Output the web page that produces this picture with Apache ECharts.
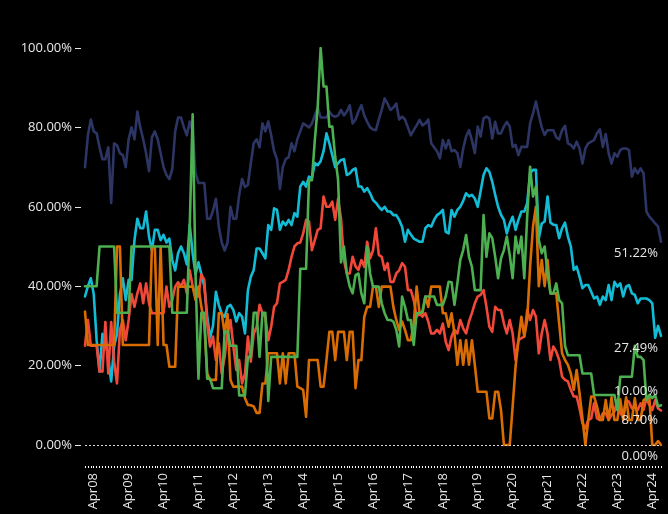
<!DOCTYPE html>
<html>
<head>
<meta charset="utf-8">
<script src="https://cdn.jsdelivr.net/npm/echarts@6/dist/echarts.min.js"></script>
<style>
  html, body { margin: 0; padding: 0; background: #000; }
  #chart { width: 668px; height: 514px; }
</style>
</head>
<body>
<div id="chart"></div>
<script>
// Monthly shares (%), Jan 2008 .. Jul 2024
const firstYear = 2008;
const monthNames = ['Jan','Feb','Mar','Apr','May','Jun','Jul','Aug','Sep','Oct','Nov','Dec'];
const shownMonth = 'Apr';
const yMin = 0, yMax = 100, yStep = 20;

const navy = [
  70,78,82,79,78.5,75,72,72,75,61,
  76,75.5,73.5,73,70,77,80,77,84,80,
  77,73.5,69,77.5,79,77,73.5,70,68,67,
  69.5,79,82.5,82.5,80,78,81.5,79,68.5,66,
  66,66,57,57,59,62,55,51,49,51,
  60,57,57,63,67,65,65.5,71,76,77,
  75,81,79,81.5,78,74,72,64.5,70,72,
  72.5,76,74,77,79,81,80.5,80,81,83,
  85,82.5,82.5,82.5,84,83,82.7,83,84.4,83,
  84,85.6,81,82,84,85.6,83,81.4,80,79.5,
  79.3,82,84.4,87.3,86,84.4,85,86,82,82.7,
  82,80,78,79.3,80.5,81.9,80.5,81,82,76,
  75,74,72.2,76.8,74.7,76.8,74,74.3,73.5,70,
  74.7,77.7,79.3,76.8,73.5,80.2,77.7,82.3,82.7,82.3,
  77.2,81.4,78.5,78.5,80.2,81.4,80.2,75.1,75.6,73,
  75.1,75.1,75.1,81,83.5,86.5,83.1,80,78.1,79.3,
  79.3,79.3,77.5,77,79.3,80.4,76,75.6,74.7,76.4,
  74.7,70.9,74.7,76,76.4,76.8,78.5,79.5,75.1,78.3,
  73.5,70.9,73.5,72.6,74.3,74.7,74.7,74.3,67.6,69.7,
  68.4,69.7,68.4,58.8,57.5,56.7,55.8,55,51.22
];

const cyan = [
  37.4,40,42,38,26.4,18.5,28,26,22,16,
  24.8,28,38,42,36.5,41.6,41.6,51.6,57,54.6,
  54.6,58.8,52.5,49,54.2,54.2,51.6,52.9,51,52,
  46.6,44,48.3,50,48.3,45.5,55.5,48.3,43,46,
  43,40,32.5,27,30,38.6,35.3,33,32.3,34.8,
  35.3,34,31.1,33.2,32.3,28.1,39,42.4,44.1,49.5,
  49.5,48.3,47,55.4,54.2,59.6,59.2,54.2,56.3,55.4,
  56.7,55.4,58.4,57.5,65.1,66.3,65.1,67.6,67.2,71,
  70.5,71.5,74,78.5,76,73,70,71,71.8,72,
  68,68.4,69.3,69.7,65.1,65.1,63.8,64.7,63.4,61.7,
  61,60,59.2,60,58.8,58.8,57.9,57.9,56.7,55,
  51.2,54.2,53,52,51.6,51.2,51.2,54.6,55.4,55,
  56.7,57.9,58.4,59.2,53.7,53.3,59.2,57.5,59.2,60,
  61.5,63.4,62.6,63,62.1,60,64,68,69.7,68.8,
  66.3,63,60,58,56.7,53.3,55.8,57.5,54.2,56.7,
  58.8,58.8,60.9,68.4,69.3,69.3,52,55.8,56.3,62.6,
  56,55.5,55.4,52.1,54.6,56,52.5,50,44.1,44.9,
  42.4,39.5,40.3,40.3,38.6,36.9,37.4,35.3,37.4,36.5,
  40.3,36.5,41.1,39.9,40.7,37.4,39.9,40.3,38.2,37.8,
  35.7,36.9,36.9,36.9,36.5,35.7,27,30,27.49
];

const red = [
  25,31.5,25,25,25,18.5,18.5,31,18,31,
  21,15.5,29,31.5,26.4,31.5,38,34.8,38.2,40.7,
  35.7,40.7,35.7,33.2,33.2,33.2,33.2,33.2,39.9,34.8,
  36.5,39.9,41,40,41.6,38.2,44,40,37.4,37.4,
  43,41.6,30.6,24.8,27.3,21.4,25.6,18,22.2,28.1,
  31.5,24.8,18.9,21.4,15.5,18,27.3,21,28,29.8,
  35.3,33.2,32.3,26.4,29.8,34.8,35.7,40.7,41.1,41.6,
  44.1,47.4,50,50.8,51,53.3,56.7,56.3,49.1,51.6,
  54.2,54.6,62.6,60,60,61.3,56.7,62,57,46.6,
  43.2,43.2,47.4,45,44.1,46.6,44.9,51.2,47,49,
  54.6,47.9,47.4,44.1,45.8,41.1,41.1,43.2,44,45.8,
  44.9,39,39,36.5,32.3,33.2,32.3,33.2,31.1,28.1,
  28.1,29,28.1,30.6,26,23.9,27.3,29,28.1,31.5,
  29.4,28.1,31.1,33.2,35.7,37.4,37.8,39,34.8,29.8,
  28.5,34.8,34,34,30.6,28.1,31.5,28.1,21.4,26.4,
  26.9,27.3,34,31.5,34,32.3,23.1,28.1,31.5,28,
  21.4,24.8,23.5,21.4,17.2,16.4,16,13.9,12.2,12.2,
  9.2,5.5,4.2,6.3,6.7,10.5,6.7,6.3,8,8,
  6.3,7.6,8.4,11.3,8,7.1,11.3,10.9,9.2,9.7,
  8.8,10.5,8.8,11.8,10.1,8.8,11.3,9.2,8.7
];

const green = [
  40,40,40,40,40,50,50,50,50,50,
  50,33.3,33.3,33.3,33.3,33.3,50,50,50,50,
  50,50,50,50,50,50,50,50,50,50,
  33.3,33.3,33.3,33.3,33.3,33.3,55,83.3,43,16.7,
  33.3,33.3,16.7,16.7,14.3,14.3,14.3,14.3,28.6,28.6,
  25,25,25,12.5,12.5,12.5,22.2,22.2,33.3,33.3,
  22.2,33.3,33.3,11.1,22.2,22.2,22.2,22.2,22.2,22.2,
  22.2,22.2,22.2,22.2,44.4,44.4,44.4,66.7,66.7,76.8,
  85.2,100,90.3,90.3,80.2,80.2,72.6,66.8,46,50,
  43.2,39.9,38.2,42.8,43.2,38.2,35.7,50,43.2,39.9,
  39.9,39.9,35.7,33.2,31.5,31.5,31.1,29,24.8,37.4,
  34.8,31.5,31.5,25.2,33.2,33.2,33.6,37.4,37.4,37.4,
  37.4,35.3,35.3,35.3,37.4,41.1,41,35.3,40.7,46.6,
  49.1,52.9,47.4,44.9,39,39,39,57.9,47.4,53.3,
  52.1,47.4,42,47,49.1,52.5,47.9,42,52.5,48.3,
  52.5,42,57.5,70.1,62.6,65.1,51.6,48.3,50,43.2,
  38.2,38.2,40.7,36.5,35.7,25,22.6,22.6,22.6,22.6,
  22.6,18,18,18,18,12.6,12.6,12.6,12.6,12.6,
  12.6,12.6,12.6,8.8,17.2,17.2,17.2,17.2,17.2,25,
  22.2,22.2,21.4,11.3,12.6,11.8,12.6,9.7,10
];

const orange = [
  33.6,25.2,25.2,25.2,25.2,25.2,25.2,25.2,25.2,25.2,
  25.2,50,50,25.2,25.2,25.2,25.2,25.2,25.2,25.2,
  25.2,25.2,25.2,50,50,25.2,50,25.2,25.2,19.7,
  19.7,19.7,39.9,39.9,39.9,39.9,39.9,39.9,36.5,39.9,
  34.8,30.6,18,16.4,16.4,16.4,33.2,33.2,28,33,
  16.4,14.7,14.7,14.7,14.7,11.8,10.1,10,9.7,8.1,
  8.1,15.5,15.5,23.1,23.1,23.1,23.1,15.5,23.1,15.5,
  23.1,23.1,23.1,14.7,14.3,13.9,7.1,21.4,21.4,21.4,
  21.4,14.7,14.7,21.4,28.5,28.5,21.4,28.5,28.5,28.5,
  21.4,28.5,28.5,14.3,21.4,21.4,32.3,34.8,34.8,39.9,
  39.9,34.8,39.9,39.9,39.9,39.9,34.8,31.5,29,31.1,
  29,26.4,26.4,30.6,39.9,33.2,33.2,37.4,34.8,39.9,
  39.9,39.9,39.9,33.2,33.2,29.8,33.2,28.1,20.2,26.4,
  20.2,26.4,20.2,26.4,20.2,13.4,13.4,13.4,13.4,6.7,
  6.7,13.4,13.4,8.8,0,0,0,9.7,19.7,26.4,
  32.3,27.3,31.5,44.9,55,60,40,46.6,40,46.6,
  38.2,38.2,38.2,30.6,23.1,21.4,20.2,18,13.9,18.9,
  13,6.7,0,6.3,12.2,12.2,9.7,6.3,6.3,11.3,
  6.3,12,6.3,6.3,11.5,6.3,12,6.3,6.3,11.8,
  6.3,6.3,11.3,11.8,12,0,0,1,0
];

// Month categories such as "Apr08"
const categories = navy.map((_, i) =>
  monthNames[i % 12] + String((firstYear + Math.floor(i / 12)) % 100).padStart(2, '0'));

const textColor = '#e8e8e8';
const fontFamily = '"Open Sans", "Liberation Sans", sans-serif';
const pct = v => Number(v).toFixed(2) + '%';

function lineSeries(name, values, color, labelDy) {
  return {
    name: name,
    type: 'line',
    data: values,
    symbol: 'none',
    lineStyle: { color: color, width: 2.6, cap: 'round', join: 'round' },
    itemStyle: { color: color },
    endLabel: {
      show: true,
      formatter: p => pct(p.value),
      color: textColor,
      fontSize: 13,
      fontFamily: fontFamily,
      align: 'right',
      verticalAlign: 'middle',
      distance: 0,
      offset: [-3, labelDy]
    },
    emphasis: { disabled: true }
  };
}

const series = [
  lineSeries('navy', navy, '#2d3564', 12),
  lineSeries('cyan', cyan, '#12bcd6', 12),
  lineSeries('red', red, '#f2483a', 10),
  lineSeries('orange', orange, '#d96c02', 11),
  lineSeries('green', green, '#4caf50', -14)
];

// dashed baseline at 0%
series[0].markLine = {
  silent: true,
  symbol: ['none', 'none'],
  label: { show: false },
  lineStyle: { color: '#dddddd', width: 1, type: [2, 2] },
  data: [{ yAxis: 0 }]
};

const chart = echarts.init(document.getElementById('chart'));
chart.setOption({
  backgroundColor: '#000000',
  animation: false,
  grid: [
    { left: 85, right: 7, top: 48, bottom: 69 },   // plot area
    { left: 85, right: 7, top: 465, height: 1 }     // detached month axis below it
  ],
  xAxis: [
    {
      type: 'category',
      gridIndex: 0,
      data: categories,
      boundaryGap: false,
      show: false
    },
    {
      type: 'category',
      gridIndex: 1,
      data: categories,
      boundaryGap: false,
      axisLine: { show: true, lineStyle: { color: '#000000', opacity: 0 } },
      axisTick: { show: true, interval: 0, length: 2, lineStyle: { color: '#ffffff', width: 1 } },
      axisLabel: {
        interval: (i, v) => v.startsWith(shownMonth),
        rotate: 90,
        margin: 7,
        color: textColor,
        fontSize: 13,
        fontFamily: fontFamily
      },
      splitLine: { show: false }
    }
  ],
  yAxis: [
    {
      type: 'value',
      gridIndex: 0,
      min: yMin,
      max: yMax,
      interval: yStep,
      offset: 4,
      axisLine: { show: false },
      axisTick: { show: true, length: 6, lineStyle: { color: textColor } },
      axisLabel: {
        formatter: v => pct(v),
        margin: 9,
        color: textColor,
        fontSize: 13,
        fontFamily: fontFamily
      },
      splitLine: { show: false }
    },
    { type: 'value', gridIndex: 1, show: false }
  ],
  series: series
});
</script>
</body>
</html>
